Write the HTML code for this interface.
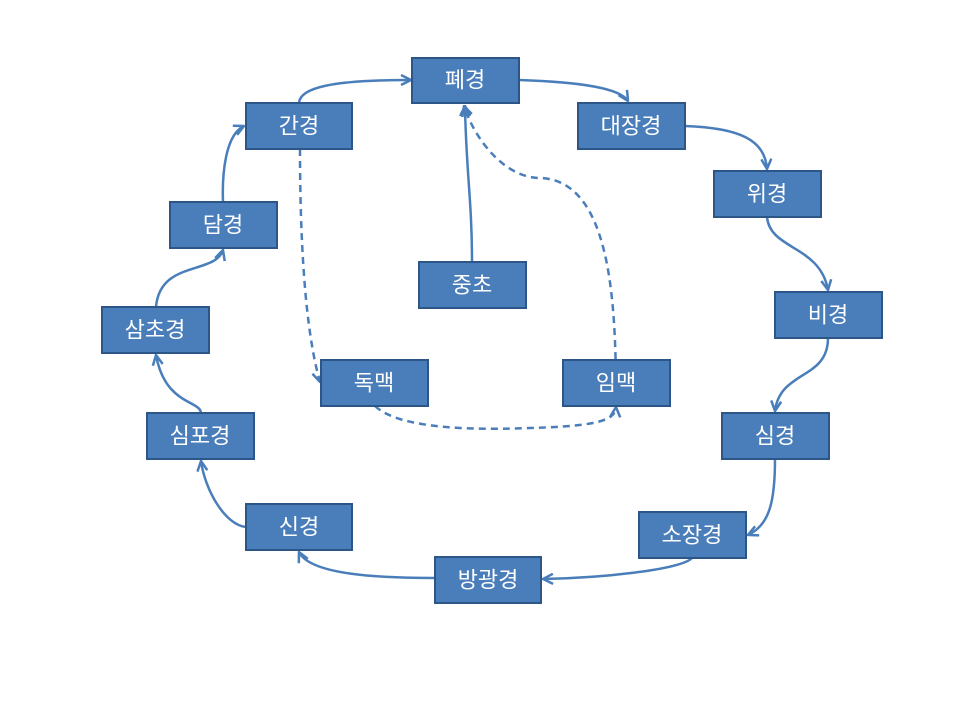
<!DOCTYPE html>
<html><head><meta charset="utf-8"><style>
body{margin:0;background:#fff;}
svg{display:block}
.b{fill:#4a7ebb;stroke:#2c5687;stroke-width:2}
.t{fill:#fff;font-family:"Liberation Sans","Noto Sans CJK KR","NanumGothic",sans-serif;font-size:22px;text-anchor:middle;dominant-baseline:central}
.c{fill:none;stroke:#4a7ebb;stroke-width:2.5;marker-end:url(#a)}
.d{stroke-dasharray:7,5}
</style></head><body>
<svg width="960" height="720" viewBox="0 0 960 720">
<defs><marker id="a" viewBox="0 0 12 12" refX="11" refY="6" markerWidth="12" markerHeight="12" orient="auto" markerUnits="userSpaceOnUse"><path d="M1,1 L11,6 L1,11" fill="none" stroke="#4a7ebb" stroke-width="2.5"/></marker></defs>
<path class="c" d="M299,103 C300,88 330,80 411,80"/>
<path class="c" d="M519,80 C580,82 620,88 628,101"/>
<path class="c" d="M685,126 C740,128 765,140 767,169"/>
<path class="c" d="M767,217 C770,250 820,245 828,290"/>
<path class="c" d="M828,338 C828,380 780,370 775,411"/>
<path class="c" d="M775,459 C775,500 770,525 748,535"/>
<path class="c" d="M692,558 C680,570 600,578 543,579"/>
<path class="c" d="M435,578 C380,578 310,575 299,552"/>
<path class="c" d="M246,527 C225,525 205,490 201,461"/>
<path class="c" d="M201,413 C200,400 165,405 156,355"/>
<path class="c" d="M156,307 C160,260 215,275 223,250"/>
<path class="c" d="M223,202 C222,175 225,135 244,126"/>
<path class="c" d="M472,262 C472,200 466,170 465,106"/>
<path class="c d" d="M300,149 C300,240 305,330 320,382"/>
<path class="c d" d="M616,383 C615,300 610,180 540,178 C505,178 475,140 464,106"/>
<path class="c d" d="M375,406 C400,430 480,430 530,428 C600,426 615,420 616,407"/>
<g>
<rect class="b" x="412" y="58" width="107" height="45"/><text class="t" x="465" y="80">폐경</text>
<rect class="b" x="246" y="103" width="106" height="46"/><text class="t" x="299" y="126">간경</text>
<rect class="b" x="578" y="103" width="107" height="46"/><text class="t" x="631" y="126">대장경</text>
<rect class="b" x="714" y="171" width="107" height="46"/><text class="t" x="767" y="194">위경</text>
<rect class="b" x="170" y="202" width="107" height="46"/><text class="t" x="223" y="225">담경</text>
<rect class="b" x="419" y="262" width="107" height="46"/><text class="t" x="472" y="285">중초</text>
<rect class="b" x="775" y="292" width="107" height="46"/><text class="t" x="828" y="315">비경</text>
<rect class="b" x="102" y="307" width="107" height="46"/><text class="t" x="155" y="330">삼초경</text>
<rect class="b" x="321" y="360" width="107" height="46"/><text class="t" x="374" y="383">독맥</text>
<rect class="b" x="563" y="360" width="107" height="46"/><text class="t" x="616" y="383">임맥</text>
<rect class="b" x="147" y="413" width="107" height="46"/><text class="t" x="200" y="436">심포경</text>
<rect class="b" x="722" y="413" width="107" height="46"/><text class="t" x="775" y="436">심경</text>
<rect class="b" x="246" y="504" width="106" height="46"/><text class="t" x="299" y="527">신경</text>
<rect class="b" x="639" y="512" width="107" height="46"/><text class="t" x="692" y="535">소장경</text>
<rect class="b" x="435" y="557" width="106" height="46"/><text class="t" x="488" y="580">방광경</text>
</g>
</svg>
</body></html>
